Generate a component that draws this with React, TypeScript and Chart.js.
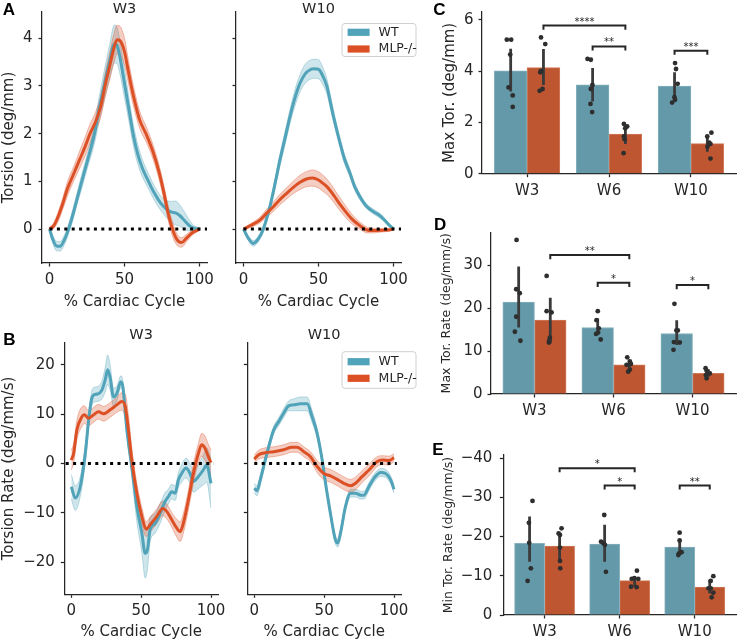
import React, { useEffect, useRef } from "react";
import { Chart, registerables } from "chart.js";

Chart.register(...registerables);

// ------------------------------------------------------------------ data
const SERIES = ["WT", "MLP-/-"];
const LINE_WEEKS = ["W3", "W10"];
const BAR_WEEKS = ["W3", "W6", "W10"];
const X_TITLE = "% Cardiac Cycle";
const LINE_XTICKS = [0, 50, 100];
const A_YTICKS = [0, 1, 2, 3, 4];
const B_YTICKS = [-20, -10, 0, 10, 20];
const C_YTICKS = [0, 2, 4, 6];
const D_YTICKS = [0, 10, 20, 30];
const E_YTICKS = [0, -10, -20, -30, -40];

// dotted zero reference lines (x extent)
const A_ZERO = [0, 105];
const B3_ZERO = [-4, 102];
const B10_ZERO = [0, 102];

// Panel A, W3 (torsion, deg/mm)
const A3_WT_X = [0, 2, 4.5, 7, 10, 12.7, 16, 18.5, 21.5, 25, 30, 33, 36.4, 40, 43.3, 45, 47, 50, 53, 56, 59, 62, 66, 70, 74, 78, 81, 84, 87, 90, 93, 96, 100];
const A3_WT_Y = [0, -0.2, -0.35, -0.36, -0.22, 0, 0.35, 0.65, 1.0, 1.4, 2.0, 2.5, 3.0, 3.5, 3.88, 3.85, 3.6, 3.05, 2.5, 1.95, 1.55, 1.27, 1.0, 0.75, 0.55, 0.42, 0.36, 0.34, 0.28, 0.18, 0.08, 0.02, 0];
const A3_WT_CI = [0.03, 0.08, 0.1, 0.1, 0.1, 0.1, 0.12, 0.12, 0.15, 0.15, 0.2, 0.25, 0.3, 0.35, 0.4, 0.38, 0.35, 0.3, 0.25, 0.22, 0.2, 0.18, 0.16, 0.15, 0.15, 0.18, 0.22, 0.25, 0.22, 0.18, 0.12, 0.06, 0.03];
const A3_MLP_X = [0, 3, 6, 9, 12, 16, 20, 24, 27, 30, 34, 37, 40, 43, 45, 47, 50, 52, 54.5, 57, 60, 65, 69, 73, 76, 79, 82, 85, 88, 91, 95, 100];
const A3_MLP_Y = [0, 0.08, 0.28, 0.55, 0.85, 1.15, 1.45, 1.75, 2.0, 2.2, 2.55, 3.0, 3.4, 3.8, 3.97, 3.95, 3.72, 3.4, 3.0, 2.65, 2.3, 1.95, 1.62, 1.2, 0.8, 0.35, 0.0, -0.22, -0.28, -0.2, -0.08, 0];
const A3_MLP_CI = [0.03, 0.06, 0.1, 0.12, 0.15, 0.15, 0.18, 0.2, 0.2, 0.2, 0.22, 0.25, 0.28, 0.3, 0.3, 0.3, 0.28, 0.25, 0.22, 0.2, 0.18, 0.16, 0.15, 0.15, 0.15, 0.15, 0.15, 0.12, 0.1, 0.08, 0.05, 0.03];

// Panel A, W10
const A10_WT_X = [0, 3, 6.5, 10, 13.2, 17.6, 21, 24.3, 28, 31, 34, 37.7, 41, 44.4, 47, 50, 53, 55.6, 58, 60, 64, 67, 71, 74, 77.6, 82, 87, 91, 94, 97, 100];
const A10_WT_Y = [0, -0.18, -0.3, -0.2, 0, 0.47, 0.95, 1.45, 1.95, 2.36, 2.72, 3.06, 3.25, 3.34, 3.36, 3.35, 3.2, 2.99, 2.65, 2.36, 1.85, 1.5, 1.17, 0.9, 0.68, 0.48, 0.36, 0.28, 0.19, 0.09, 0];
const A10_WT_CI = [0.02, 0.05, 0.06, 0.06, 0.06, 0.08, 0.1, 0.12, 0.14, 0.15, 0.17, 0.18, 0.2, 0.2, 0.2, 0.2, 0.18, 0.16, 0.14, 0.12, 0.1, 0.1, 0.08, 0.07, 0.06, 0.05, 0.05, 0.05, 0.04, 0.03, 0.02];
const A10_MLP_X = [0, 5, 10.9, 15, 19.9, 24, 28.8, 33, 37.7, 42, 46, 50, 53, 55.6, 59, 62.3, 66, 69, 72, 75.6, 79, 82.4, 86, 89, 95.7, 100];
const A10_MLP_Y = [0, 0.08, 0.19, 0.32, 0.47, 0.61, 0.75, 0.87, 0.98, 1.05, 1.07, 1.03, 0.96, 0.89, 0.76, 0.61, 0.45, 0.33, 0.22, 0.12, 0.04, -0.02, -0.03, -0.03, -0.02, 0];
const A10_MLP_CI = [0.02, 0.04, 0.06, 0.08, 0.1, 0.11, 0.12, 0.13, 0.15, 0.16, 0.17, 0.17, 0.17, 0.16, 0.15, 0.14, 0.13, 0.12, 0.1, 0.08, 0.07, 0.06, 0.05, 0.04, 0.03, 0.02];

// Panel B, W3 (torsion rate, deg/mm/s)
const B3_WT_X = [0, 2.9, 6.4, 10, 12.5, 14.5, 16, 18.8, 21.9, 24.3, 26, 27.9, 30.2, 32.6, 35.5, 36.9, 39.8, 43.3, 46.9, 50.5, 52.9, 54.5, 56.4, 60, 63.6, 67.1, 69.5, 71.9, 74.3, 76.7, 79, 82.1, 85, 87.4, 91, 94.5, 96.9, 100];
const B3_WT_Y = [-4.7, -7.0, -4.7, 2.0, 9.0, 13.0, 13.9, 14.1, 14.9, 17.0, 19.0, 17.3, 13.5, 14.2, 16.6, 15.6, 6.8, -0.6, -8.7, -14.1, -18.2, -17.5, -13.4, -12.1, -10.1, -7.7, -6.7, -5.7, -6.0, -3.3, -2.0, -0.9, -2.0, -3.6, -2.6, -1.3, -0.3, -4.0];
const B3_WT_CI = [2.5, 2.5, 2.0, 1.8, 1.5, 1.5, 1.5, 1.5, 1.8, 2.5, 3.0, 2.5, 1.8, 1.5, 1.2, 1.2, 1.5, 2.0, 3.0, 4.0, 5.0, 4.0, 2.5, 2.0, 2.0, 1.8, 1.5, 1.5, 1.5, 1.5, 1.8, 2.0, 2.0, 2.2, 2.5, 3.0, 3.5, 5.0];
const B3_MLP_X = [0, 1.7, 4, 7.6, 9.3, 12.4, 16, 19.5, 23.1, 27.9, 32.6, 36.2, 38.6, 40.9, 43.3, 46.9, 50.5, 53.6, 56.4, 61.2, 65.5, 68.3, 71.9, 75.5, 77.9, 80.2, 83.8, 87.4, 91, 93.3, 95.7, 98.1, 100];
const B3_MLP_Y = [0.7, 2.1, 6.8, 9.5, 9.9, 9.2, 9.9, 10.5, 10.1, 10.9, 11.9, 12.6, 11.6, 6.8, 0.7, -6.0, -10.7, -13.3, -12.4, -10.7, -9.1, -9.7, -11.4, -13.1, -13.8, -12.1, -7.4, -2.0, 2.1, 3.8, 3.1, 1.4, 0.2];
const B3_MLP_CI = [2.0, 2.0, 2.0, 2.0, 1.8, 1.5, 1.5, 1.5, 1.5, 1.5, 1.5, 1.8, 2.5, 3.0, 2.5, 2.0, 1.8, 1.5, 1.5, 1.5, 1.5, 1.5, 1.5, 1.8, 2.0, 2.0, 2.0, 2.0, 2.0, 2.3, 2.5, 2.5, 2.5];

// Panel B, W10
const B10_WT_X = [0, 1.9, 4.3, 6.7, 10.3, 13.9, 17.5, 21, 24.6, 28.2, 33, 37.8, 41.4, 45, 48.6, 51, 54.5, 58.1, 59.8, 61.7, 65.3, 68.9, 72.5, 76.1, 78.5, 82, 85.6, 90.4, 94, 97.6, 100];
const B10_WT_Y = [-5.0, -5.5, -3.3, -0.6, 3.4, 6.8, 8.5, 10.2, 11.7, 11.9, 12.1, 12.1, 9.5, 6.1, 0.7, -4.0, -10.1, -15.5, -16.1, -14.1, -8.7, -6.0, -6.0, -6.4, -6.4, -4.7, -3.0, -1.8, -2.0, -3.3, -5.2];
const B10_WT_CI = [1.0, 1.0, 1.0, 0.8, 0.8, 0.8, 0.8, 0.9, 1.0, 1.2, 1.4, 1.4, 1.2, 1.0, 0.8, 0.8, 0.8, 0.8, 0.8, 0.8, 0.8, 0.8, 0.8, 0.8, 0.8, 0.8, 0.8, 0.8, 0.8, 0.8, 0.8];
const B10_MLP_X = [0, 3.1, 7.9, 13.9, 21, 27, 30.6, 35.4, 40.2, 45, 49.8, 54.5, 59.3, 64.1, 68.9, 72.5, 77.3, 82.1, 88, 91.6, 96.4, 100];
const B10_MLP_Y = [0.9, 1.8, 2.2, 2.4, 2.8, 3.3, 3.3, 2.4, 1.4, -0.6, -2.0, -2.5, -3.2, -4.0, -4.5, -4.0, -2.6, -1.3, 0.4, 0.7, 0.6, 1.2];
const B10_MLP_CI = [0.8, 0.9, 1.0, 1.0, 1.0, 1.0, 1.0, 1.0, 1.0, 1.2, 1.3, 1.3, 1.3, 1.3, 1.3, 1.3, 1.2, 1.2, 1.0, 0.9, 0.9, 0.8];

// Panel C: max torsion (deg/mm)
const C_WT_MEAN = [4.01, 3.46, 3.41];
const C_MLP_MEAN = [4.13, 1.54, 1.17];
const C_WT_CI = [[3.2, 4.87], [2.81, 4.12], [2.88, 3.95]];
const C_MLP_CI = [[3.46, 4.86], [1.16, 1.9], [0.86, 1.45]];
const C_WT_PTS = [[5.22, 5.22, 4.64, 3.36, 3.05, 2.6], [4.47, 4.44, 3.46, 3.3, 2.72, 2.4], [4.31, 4.08, 3.5, 2.98, 2.88, 2.77]];
const C_WT_JIT = [[-0.047, 0.006, -0.006, -0.026, 0.025, 0.025], [-0.062, -0.022, -0.002, -0.022, -0.026, -0.006], [0.006, 0.018, 0.038, -0.001, 0.006, -0.03]];
const C_MLP_PTS = [[5.31, 5.05, 3.95, 4.01, 3.3, 3.23], [1.94, 1.84, 1.77, 1.45, 1.34, 0.8], [1.6, 1.45, 1.21, 1.16, 1.05, 0.59]];
const C_MLP_JIT = [[-0.03, 0.022, -0.038, -0.03, -0.011, -0.047], [-0.018, 0.022, -0.002, -0.018, -0.01, -0.022], [0.05, -0.001, 0.023, 0.038, 0.002, 0.038]];
const C_SIG = [[0, 1, 1, 1, 5.77, "****"], [1, 0, 1, 1, 4.96, "**"], [2, 0, 2, 1, 4.79, "***"]];

// Panel D: max torsion rate (deg/mm/s)
const D_WT_MEAN = [21.4, 15.5, 14.1];
const D_MLP_MEAN = [17.2, 6.8, 4.8];
const D_WT_CI = [[15.5, 29.7], [14.1, 17.6], [11.4, 17.2]];
const D_MLP_CI = [[11.8, 22.4], [5.6, 7.9], [4.0, 5.75]];
const D_WT_PTS = [[35.9, 24.4, 23.5, 18.0, 14.5, 12.4], [19.3, 17.2, 15.3, 14.0, 14.3, 12.7], [21.0, 14.8, 14.8, 12.1, 12.0, 10.3]];
const D_WT_JIT = [[-0.027, -0.031, 0.014, -0.031, -0.048, 0.022], [0.001, -0.015, 0.014, -0.02, 0.005, 0.038], [-0.029, -0.004, 0.014, -0.036, 0.038, -0.041]];
const D_MLP_PTS = [[27.5, 19.3, 19.0, 13.1, 12.4, 12.0], [8.55, 7.6, 7.0, 6.8, 5.7, 5.2], [6.0, 5.4, 5.0, 4.8, 4.4, 3.65]];
const D_MLP_JIT = [[-0.046, -0.046, 0.016, -0.005, -0.014, -0.017], [-0.026, 0.007, 0.02, -0.035, 0.007, -0.014], [-0.035, -0.022, -0.001, 0.019, -0.031, -0.022]];
const D_SIG = [[0, 1, 1, 1, 32.4, "**"], [1, 0, 1, 1, 25.9, "*"], [2, 0, 2, 1, 25.4, "*"]];

// Panel E: min torsion rate (deg/mm/s)
const E_WT_MEAN = [-18.3, -18.1, -17.3];
const E_MLP_MEAN = [-17.6, -8.75, -7.1];
const E_WT_CI = [[-13.6, -25.1], [-13.6, -23.0], [-15.3, -19.1]];
const E_MLP_CI = [[-13.6, -20.8], [-7.2, -9.8], [-5.5, -8.9]];
const E_WT_PTS = [[-29.1, -23.5, -18.4, -11.9, -8.7], [-25.5, -18.7, -18.3, -17.9, -11.0], [-21.0, -19.0, -16.0, -15.7, -15.3]];
const E_WT_JIT = [[0.039, -0.009, -0.005, 0.017, -0.026], [-0.005, -0.048, -0.018, 0.004, 0.017], [-0.001, -0.001, 0.025, -0.009, -0.018]];
const E_MLP_PTS = [[-22.1, -20.8, -20.4, -17.2, -13.8, -11.9], [-11.3, -9.2, -9.4, -9.2, -7.2, -7.1], [-9.9, -8.7, -6.8, -6.8, -5.7, -4.5]];
const E_MLP_JIT = [[0.026, -0.013, 0.005, 0.005, 0.005, 0.009], [0.03, -0.039, -0.004, 0.048, -0.048, 0.026], [0.048, 0.013, -0.017, 0.013, 0.048, 0.026]];
const E_SIG = [[0, 1, 1, 1, -37.4, "*"], [1, 0, 1, 1, -33.0, "*"], [2, 0, 2, 1, -33.0, "**"]];

// ------------------------------------------------------------------ style
const FAMILY = '"DejaVu Sans", "Noto Sans", sans-serif';
const INK = "#262626";
const TEAL = "#50a3b8";
const ORANGE = "#dc5026";
const TEAL_FILL = "rgba(80,163,184,0.28)";
const ORANGE_FILL = "rgba(220,80,38,0.28)";
const TEAL_EDGE = "rgba(80,163,184,0.45)";
const ORANGE_EDGE = "rgba(220,80,38,0.45)";
const TEAL_BAR = "#6399a8";
const ORANGE_BAR = "#bf5632";
const TEAL_BAR_EDGE = "#86b1bd";
const ORANGE_BAR_EDGE = "#d07a5a";
const DOT = "#2e2e2e";
const ERR = "#3a3a3a";
const BAR_OFF = 0.2;
const FS = 15; // tick and axis-title font size
const HALF = (FS * 1.2) / 2;

Chart.defaults.font.family = FAMILY;
Chart.defaults.color = INK;

const f = (size: number) => ({ family: FAMILY, size });
const fmt = (v: number) => (v < 0 ? "\u2212" + Math.abs(v) : String(v));

const GRID = { display: true, drawOnChartArea: false, drawTicks: true, tickLength: 3.5, tickWidth: 1.25, tickColor: INK };
const BORDER = { display: true, color: INK, width: 1.25 };

function decor(o: any) {
  return {
    id: "decor",
    afterDraw(chart: any) {
      const { ctx, chartArea: ca } = chart;
      ctx.save();
      if (o.title) {
        ctx.font = `14.5px ${FAMILY}`;
        ctx.fillStyle = INK;
        ctx.textAlign = "center";
        ctx.textBaseline = "alphabetic";
        ctx.fillText(o.title, (ca.left + ca.right) / 2, ca.top + o.titleDy);
      }
      if (o.legend) {
        const L = o.legend;
        const left = ca.right + L.dx - L.w;
        const top = ca.top + L.dy;
        ctx.fillStyle = "rgba(255,255,255,0.85)";
        ctx.strokeStyle = "#cfcfcf";
        ctx.lineWidth = 1;
        ctx.beginPath();
        if (ctx.roundRect) ctx.roundRect(left, top, L.w, L.h, 3);
        else ctx.rect(left, top, L.w, L.h);
        ctx.fill();
        ctx.stroke();
        const items = [
          { text: SERIES[0], color: TEAL },
          { text: SERIES[1], color: ORANGE },
        ];
        items.forEach((it, i) => {
          const cy = top + L.rows[i];
          ctx.fillStyle = it.color;
          ctx.fillRect(left + 5.6, cy - 3.6, 22, 7.2);
          ctx.fillStyle = INK;
          ctx.font = `12.5px ${FAMILY}`;
          ctx.textAlign = "left";
          ctx.textBaseline = "middle";
          ctx.fillText(it.text, left + 36.6, cy);
        });
      }
      if (o.sig) {
        const xs = chart.scales.x;
        const ys = chart.scales.y;
        ctx.font = `10px ${FAMILY}`;
        ctx.fillStyle = INK;
        ctx.textAlign = "center";
        ctx.textBaseline = "alphabetic";
        o.sig.forEach((s: any) => {
          const x1 = s[0] + (s[1] === 0 ? -BAR_OFF : BAR_OFF);
          const x2 = s[2] + (s[3] === 0 ? -BAR_OFF : BAR_OFF);
          ctx.fillText(s[5], (xs.getPixelForValue(x1) + xs.getPixelForValue(x2)) / 2, ys.getPixelForValue(s[4]) - 1);
        });
      }
      ctx.restore();
    },
  };
}

function frame(box: any, area: any) {
  return {
    padding: { left: 0, top: area.t - box.y, right: box.x + box.w - area.r, bottom: 0 },
    yW: area.l - box.x,
    xH: box.y + box.h - area.b,
  };
}

// ------------------------------------------------------------------ line panels
function lineConfig(p: any) {
  const fr = frame(p.box, p.area);
  const curve = (c: any, k: number) => c.x.map((x: number, i: number) => ({ x, y: c.y[i] + k * c.ci[i] }));
  const sm = { pointRadius: 0, cubicInterpolationMode: "monotone", fill: false };
  const datasets: any[] = [
    { label: "zero", data: p.zero.map((x: number) => ({ x, y: 0 })), borderColor: "#000", borderWidth: 3, borderDash: [3, 4.4], borderCapStyle: "butt", pointRadius: 0, fill: false, order: 0 },
    { label: SERIES[1], data: curve(p.mlp, 0), borderColor: ORANGE, borderWidth: 3, ...sm, order: 1 },
    { label: SERIES[0], data: curve(p.wt, 0), borderColor: TEAL, borderWidth: 3, ...sm, order: 2 },
    { label: "mlp hi", data: curve(p.mlp, 1), borderColor: ORANGE_EDGE, borderWidth: 0.8, ...sm, order: 3 },
    { label: "mlp lo", data: curve(p.mlp, -1), borderColor: ORANGE_EDGE, borderWidth: 0.8, ...sm, fill: { target: 3 }, backgroundColor: ORANGE_FILL, order: 3 },
    { label: "wt hi", data: curve(p.wt, 1), borderColor: TEAL_EDGE, borderWidth: 0.8, ...sm, order: 4 },
    { label: "wt lo", data: curve(p.wt, -1), borderColor: TEAL_EDGE, borderWidth: 0.8, ...sm, fill: { target: 5 }, backgroundColor: TEAL_FILL, order: 4 },
  ];
  return {
    type: "line",
    data: { datasets },
    plugins: [decor({ title: p.title, titleDy: p.titleDy, legend: p.legend })],
    options: {
      animation: false,
      responsive: true,
      maintainAspectRatio: false,
      events: [],
      layout: { padding: fr.padding },
      plugins: { legend: { display: false }, tooltip: { enabled: false }, title: { display: false } },
      scales: {
        x: {
          type: "linear",
          min: -5,
          max: 105,
          afterBuildTicks: (s: any) => { s.ticks = LINE_XTICKS.map((v) => ({ value: v })); },
          afterFit: (s: any) => { s.height = fr.xH; s.paddingLeft = 0; s.paddingRight = 0; },
          ticks: { font: f(FS), color: INK, padding: 4.8, autoSkip: false, maxRotation: 0, callback: (v: number) => fmt(v) },
          grid: GRID,
          border: BORDER,
          title: { display: true, text: X_TITLE, font: f(FS), color: INK, padding: { top: 0, bottom: Math.max(0, p.box.y + p.box.h - p.xTitleCY - HALF) } },
        },
        y: {
          type: "linear",
          min: p.yMin,
          max: p.yMax,
          afterBuildTicks: (s: any) => { s.ticks = p.yTicks.map((v: number) => ({ value: v })); },
          afterFit: (s: any) => { s.width = fr.yW; s.paddingTop = 0; s.paddingBottom = 0; },
          ticks: { font: f(FS), color: INK, padding: 6, autoSkip: false, callback: (v: number) => (p.yLabels ? fmt(v) : "") },
          grid: GRID,
          border: BORDER,
          title: { display: !!p.yTitle, text: p.yTitle || "", font: f(FS), color: INK, padding: { top: Math.max(0, p.yTitleCX - p.box.x - HALF), bottom: 0 } },
        },
      },
    },
  };
}

// ------------------------------------------------------------------ bar panels
function barConfig(p: any) {
  const fr = frame(p.box, p.area);
  const pos = (c: number, s: number) => c + (s === 0 ? -BAR_OFF : BAR_OFF);
  const bars = (means: number[], s: number) => means.map((y, c) => ({ x: pos(c, s), y }));
  const errs = (ci: number[][], s: number) => ci.flatMap((r, c) => [{ x: pos(c, s), y: r[0] }, { x: pos(c, s), y: r[1] }, { x: pos(c, s), y: null }]);
  const dots = (pts: number[][], jit: number[][], s: number) => pts.flatMap((row, c) => row.map((y, i) => ({ x: pos(c, s) + jit[c][i], y })));
  const brackets = p.sig.flatMap((b: any) => {
    const x1 = pos(b[0], b[1]);
    const x2 = pos(b[2], b[3]);
    const y = b[4];
    const e = y - p.drop;
    return [{ x: x1, y: e }, { x: x1, y }, { x: x2, y }, { x: x2, y: e }, { x: x2, y: null }];
  });
  const datasets: any[] = [
    { type: "line", label: "sig", data: brackets, borderColor: INK, borderWidth: 2, pointRadius: 0, fill: false, order: 0 },
    { type: "scatter", label: SERIES[0] + " pts", data: dots(p.wtPts, p.wtJit, 0), backgroundColor: DOT, borderColor: DOT, pointRadius: 2.4, borderWidth: 0, order: 1 },
    { type: "scatter", label: SERIES[1] + " pts", data: dots(p.mlpPts, p.mlpJit, 1), backgroundColor: DOT, borderColor: DOT, pointRadius: 2.4, borderWidth: 0, order: 1 },
    { type: "line", label: "err wt", data: errs(p.wtCI, 0), borderColor: ERR, borderWidth: 2.8, pointRadius: 0, fill: false, order: 2 },
    { type: "line", label: "err mlp", data: errs(p.mlpCI, 1), borderColor: ERR, borderWidth: 2.8, pointRadius: 0, fill: false, order: 2 },
    { type: "bar", label: SERIES[0], data: bars(p.wtMean, 0), backgroundColor: TEAL_BAR, borderColor: TEAL_BAR_EDGE, borderWidth: 1, grouped: false, categoryPercentage: 1, barPercentage: 1, order: 3 },
    { type: "bar", label: SERIES[1], data: bars(p.mlpMean, 1), backgroundColor: ORANGE_BAR, borderColor: ORANGE_BAR_EDGE, borderWidth: 1, grouped: false, categoryPercentage: 1, barPercentage: 1, order: 3 },
  ];
  return {
    type: "bar",
    data: { datasets },
    plugins: [decor({ sig: p.sig })],
    options: {
      animation: false,
      responsive: true,
      maintainAspectRatio: false,
      events: [],
      layout: { padding: fr.padding },
      plugins: { legend: { display: false }, tooltip: { enabled: false }, title: { display: false } },
      scales: {
        x: {
          type: "linear",
          min: -0.55,
          max: 2.55,
          offset: false,
          afterBuildTicks: (s: any) => { s.ticks = BAR_WEEKS.map((_, i) => ({ value: i })); },
          afterFit: (s: any) => { s.height = fr.xH; s.paddingLeft = 0; s.paddingRight = 0; },
          ticks: { font: f(FS), color: INK, padding: 4.8, autoSkip: false, maxRotation: 0, callback: (v: number) => BAR_WEEKS[Math.round(v)] },
          grid: { ...GRID, offset: false },
          border: BORDER,
        },
        y: {
          type: "linear",
          min: p.yMin,
          max: p.yMax,
          reverse: !!p.reverse,
          afterBuildTicks: (s: any) => { s.ticks = p.yTicks.map((v: number) => ({ value: v })); },
          afterFit: (s: any) => { s.width = fr.yW; s.paddingTop = 0; s.paddingBottom = 0; },
          ticks: { font: f(FS), color: INK, padding: p.yTickPad, autoSkip: false, callback: (v: number) => fmt(v) },
          grid: GRID,
          border: BORDER,
          title: { display: true, text: p.yTitle, font: f(p.yTitleSize), color: INK, padding: { top: p.yTitleCX - p.box.x - p.yTitleSize * 0.6, bottom: 0 } },
        },
      },
    },
  };
}

// ------------------------------------------------------------------ panels
const PANELS: any[] = [
  {
    box: { x: 0, y: 0, w: 225, h: 320 }, area: { l: 42, t: 12, r: 207, b: 263 },
    make: (box: any, area: any) => lineConfig({
      box, area, title: LINE_WEEKS[0], titleDy: 0.5, yMin: -0.71, yMax: 4.55, yTicks: A_YTICKS, yLabels: true,
      yTitle: "Torsion (deg/mm)", yTitleCX: 8, xTitleCY: 301.7, zero: A_ZERO,
      wt: { x: A3_WT_X, y: A3_WT_Y, ci: A3_WT_CI }, mlp: { x: A3_MLP_X, y: A3_MLP_Y, ci: A3_MLP_CI },
    }),
  },
  {
    box: { x: 225, y: 0, w: 205, h: 320 }, area: { l: 236, t: 12, r: 401, b: 263 },
    make: (box: any, area: any) => lineConfig({
      box, area, title: LINE_WEEKS[1], titleDy: 0.5, yMin: -0.71, yMax: 4.55, yTicks: A_YTICKS, yLabels: false,
      yTitle: "", yTitleCX: 0, xTitleCY: 301.7, zero: A_ZERO,
      legend: { dx: 15, dy: 11.5, w: 74, h: 33, rows: [8.8, 25.5] },
      wt: { x: A10_WT_X, y: A10_WT_Y, ci: A10_WT_CI }, mlp: { x: A10_MLP_X, y: A10_MLP_Y, ci: A10_MLP_CI },
    }),
  },
  {
    box: { x: 0, y: 320, w: 228, h: 321 }, area: { l: 64.3, t: 342.7, r: 218, b: 594.3 },
    make: (box: any, area: any) => lineConfig({
      box, area, title: LINE_WEEKS[0], titleDy: -3.4, yMin: -26.5, yMax: 24.5, yTicks: B_YTICKS, yLabels: true,
      yTitle: "Torsion Rate (deg/mm/s)", yTitleCX: 8, xTitleCY: 631.7, zero: B3_ZERO,
      wt: { x: B3_WT_X, y: B3_WT_Y, ci: B3_WT_CI }, mlp: { x: B3_MLP_X, y: B3_MLP_Y, ci: B3_MLP_CI },
    }),
  },
  {
    box: { x: 228, y: 320, w: 202, h: 321 }, area: { l: 247.3, t: 342.7, r: 401, b: 594.3 },
    make: (box: any, area: any) => lineConfig({
      box, area, title: LINE_WEEKS[1], titleDy: -3.4, yMin: -26.5, yMax: 24.5, yTicks: B_YTICKS, yLabels: false,
      yTitle: "", yTitleCX: 0, xTitleCY: 631.7, zero: B10_ZERO,
      legend: { dx: 15, dy: 9, w: 74, h: 36.6, rows: [10, 26.6] },
      wt: { x: B10_WT_X, y: B10_WT_Y, ci: B10_WT_CI }, mlp: { x: B10_MLP_X, y: B10_MLP_Y, ci: B10_MLP_CI },
    }),
  },
  {
    box: { x: 430, y: 0, w: 310, h: 215 }, area: { l: 482, t: 12, r: 740, b: 173.7 },
    make: (box: any, area: any) => barConfig({
      box, area, yMin: 0, yMax: 6.3, yTicks: C_YTICKS, yTitle: "Max Tor. (deg/mm)", yTitleSize: FS, yTitleCX: 450, yTickPad: 5,
      wtMean: C_WT_MEAN, mlpMean: C_MLP_MEAN, wtCI: C_WT_CI, mlpCI: C_MLP_CI,
      wtPts: C_WT_PTS, wtJit: C_WT_JIT, mlpPts: C_MLP_PTS, mlpJit: C_MLP_JIT, sig: C_SIG, drop: 0.16,
    }),
  },
  {
    box: { x: 430, y: 215, w: 310, h: 221 }, area: { l: 491, t: 232.6, r: 740, b: 394 },
    make: (box: any, area: any) => barConfig({
      box, area, yMin: 0, yMax: 37.6, yTicks: D_YTICKS, yTitle: "Max Tor. Rate (deg/mm/s)", yTitleSize: 12.5, yTitleCX: 447, yTickPad: 5,
      wtMean: D_WT_MEAN, mlpMean: D_MLP_MEAN, wtCI: D_WT_CI, mlpCI: D_MLP_CI,
      wtPts: D_WT_PTS, wtJit: D_WT_JIT, mlpPts: D_MLP_PTS, mlpJit: D_MLP_JIT, sig: D_SIG, drop: 1.0,
    }),
  },
  {
    box: { x: 430, y: 436, w: 310, h: 205 }, area: { l: 503.3, t: 455, r: 740, b: 615 },
    make: (box: any, area: any) => barConfig({
      box, area, yMin: -40.8, yMax: 0, reverse: true, yTicks: E_YTICKS, yTitle: "Min Tor. Rate (deg/mm/s)", yTitleSize: 12.5, yTitleCX: 449, yTickPad: 7.5,
      wtMean: E_WT_MEAN, mlpMean: E_MLP_MEAN, wtCI: E_WT_CI, mlpCI: E_MLP_CI,
      wtPts: E_WT_PTS, wtJit: E_WT_JIT, mlpPts: E_MLP_PTS, mlpJit: E_MLP_JIT, sig: E_SIG, drop: -1.0,
    }),
  },
];

const LETTERS = [
  { t: "A", x: 2.7, base: 15 },
  { t: "B", x: 3.3, base: 345 },
  { t: "C", x: 433.3, base: 15 },
  { t: "D", x: 434, base: 230 },
  { t: "E", x: 432.3, base: 455 },
];

function Panel({ spec }: { spec: any }) {
  const ref = useRef<HTMLCanvasElement | null>(null);
  useEffect(() => {
    const chart = new Chart(ref.current as HTMLCanvasElement, spec.make(spec.box, spec.area));
    return () => chart.destroy();
  }, []);
  const b = spec.box;
  return (
    <div style={{ position: "absolute", left: b.x, top: b.y, width: b.w, height: b.h }}>
      <canvas ref={ref} />
    </div>
  );
}

export default function App() {
  return (
    <div style={{ position: "absolute", left: 0, top: 0, width: 740, height: 641, background: "#fff", overflow: "hidden" }}>
      {PANELS.map((s, i) => (
        <Panel key={i} spec={s} />
      ))}
      {LETTERS.map((l) => (
        <div
          key={l.t}
          style={{
            position: "absolute",
            left: l.x,
            top: l.base - 14.4,
            font: 'bold 17px "Liberation Sans", Arial, sans-serif',
            lineHeight: "17px",
            color: "#000",
          }}
        >
          {l.t}
        </div>
      ))}
    </div>
  );
}
